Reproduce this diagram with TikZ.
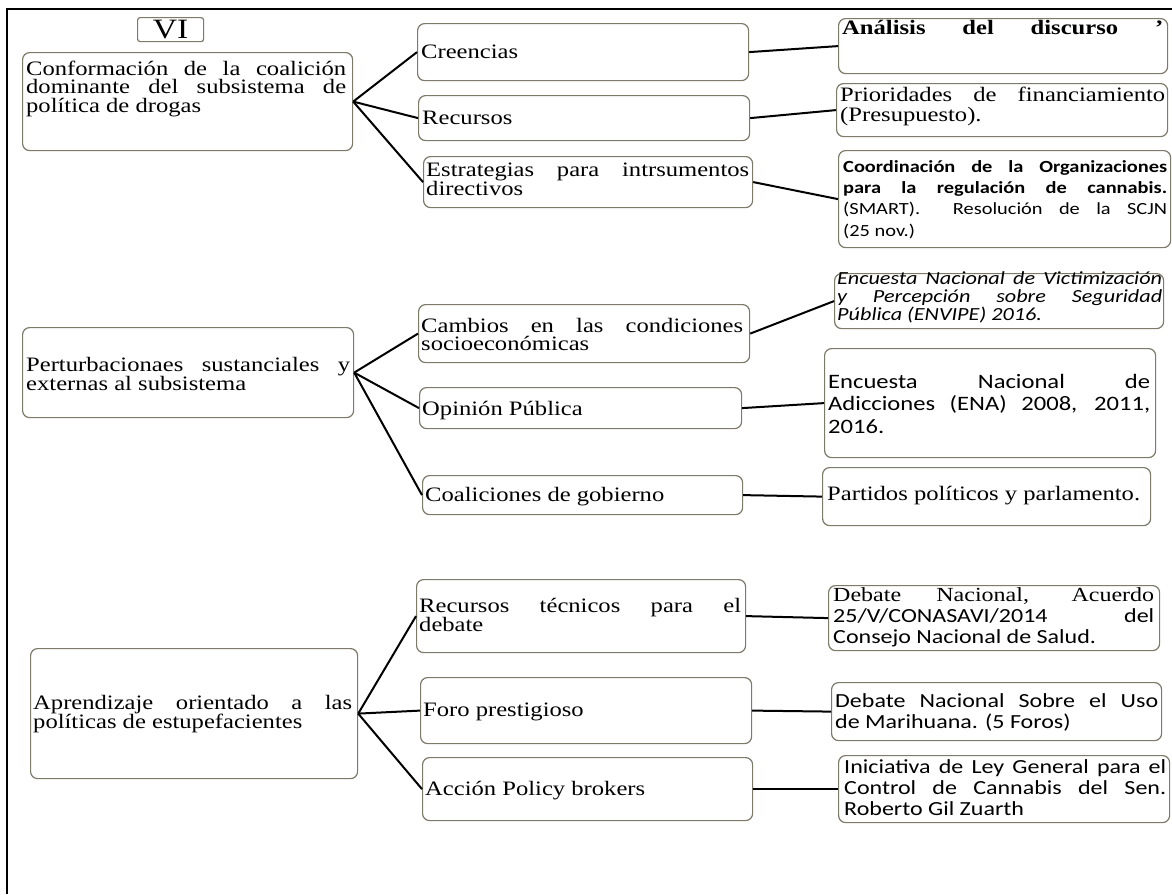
\documentclass[tikz,border=0pt]{standalone}
\usepackage{fontspec}
\setmainfont{Liberation Serif}[FakeStretch=1.2]
\newfontfamily\sansf{Carlito}[FakeStretch=1.2]
\tolerance=10000 \hbadness=10000 \hfuzz=20pt
\hyphenpenalty=10000 \exhyphenpenalty=10000
\lineskiplimit=-100pt
\definecolor{boxline}{RGB}{125,122,105}
\begin{document}
\begin{tikzpicture}[x=1pt,y=-1pt,
  box/.style={draw=boxline, line width=1.2pt, rounded corners=7pt, fill=white,
    inner sep=0pt, anchor=north west},
  lbl/.style={anchor=base west, inner sep=0pt, text=black},
  ser/.style={font=\fontsize{20.5}{18.5}\selectfont},
  san/.style={font=\sansf\fontsize{20}{21}\selectfont},
  link/.style={draw=black, line width=2pt}]

\useasboundingbox (0,0) rectangle (1172,894);
% page frame
\draw[line width=2pt] (1172,9) -- (7,9) -- (7,894);

% ---------- block VI ----------
\node[box, rounded corners=2.5pt, minimum width=66, minimum height=24, font=\fontsize{28}{28}\selectfont] (vi) at (137,17) {VI};

\node[box, minimum width=330, minimum height=98] (c1) at (22,52) {};
\node[box, minimum width=331, minimum height=57] (cre) at (417,23) {};
\node[box, minimum width=331, minimum height=45] (rec) at (418,95) {};
\node[box, minimum width=329, minimum height=51] (est) at (423,156) {};
\node[box, minimum width=329, minimum height=55] (ana) at (838,18) {};
\node[box, minimum width=331, minimum height=53] (pri) at (836,83) {};
\node[box, minimum width=332, minimum height=97] (coo) at (838,150) {};

\node[lbl, ser] (c1t) at (26,75) {\parbox[t]{320pt}{Conformación de la coalición\linebreak dominante del subsistema de\linebreak política de drogas}};
\node[lbl, ser] (cret) at (421,58) {Creencias};
\node[lbl, ser] (rect) at (422,124) {Recursos};
\node[lbl, ser] (estt) at (426,176) {\parbox[t]{323pt}{Estrategias para intrsumentos\linebreak directivos}};
\node[lbl, font=\fontsize{20.5}{18.5}\selectfont\bfseries] (anat) at (842,34) {\makebox[321pt][s]{Análisis del discurso ’}};
\node[lbl, font=\fontsize{20.5}{20}\selectfont] (prit) at (840,101) {\parbox[t]{325pt}{Prioridades de financiamiento\linebreak (Presupuesto).}};
\node[lbl, font=\sansf\fontsize{17}{21.4}\selectfont] (coot) at (843,172) {\parbox[t]{324pt}{\textbf{Coordinación de la Organizaciones\linebreak para la regulación de cannabis.}\linebreak (SMART). \ Resolución de la SCJN\linebreak (25 nov.)}};

\draw[link] (c1.east) -- (cre.west);
\draw[link] (c1.east) -- (rec.west);
\draw[link] (c1.east) -- (est.west);
\draw[link] (cre.east) -- (ana.west);
\draw[link] (rec.east) -- (pri.west);
\draw[link] (est.east) -- (coo.west);

% ---------- perturbations ----------
\node[box, minimum width=331, minimum height=90] (per) at (22,327) {};
\node[box, minimum width=331, minimum height=58] (cam) at (418,304) {};
\node[box, minimum width=322, minimum height=41] (opi) at (419,387) {};
\node[box, minimum width=320, minimum height=39] (coa) at (422,475) {};
\node[box, minimum width=329, minimum height=55] (env) at (834,273) {};
\node[box, minimum width=331, minimum height=109] (ena) at (824,348) {};
\node[box, minimum width=328, minimum height=58] (par) at (822,467) {};

\node[lbl, ser] (pert) at (26,371) {\parbox[t]{324pt}{Perturbacionaes sustanciales y\linebreak externas al subsistema}};
\node[lbl, ser] (camt) at (421,332) {\parbox[t]{322pt}{Cambios en las condiciones\linebreak socioeconómicas}};
\node[lbl, ser] (opit) at (422,415) {Opinión Pública};
\node[lbl, ser] (coat) at (425,501) {Coaliciones de gobierno};
\node[lbl, font=\sansf\itshape\fontsize{18.5}{18}\selectfont] (envt) at (837,284) {\parbox[t]{325pt}{Encuesta Nacional de Victimización\linebreak y Percepción sobre Seguridad\linebreak Pública (ENVIPE) 2016.}};
\node[lbl, font=\sansf\fontsize{20.5}{22.5}\selectfont] (enat) at (828,388) {\parbox[t]{322pt}{Encuesta Nacional de\linebreak Adicciones (ENA) 2008, 2011,\linebreak 2016.}};
\node[lbl, ser] (part) at (827,500) {Partidos políticos y parlamento.};

\draw[link] (per.east) -- (cam.west);
\draw[link] (per.east) -- (opi.west);
\draw[link] (per.east) -- (coa.west);
\draw[link] (cam.east) -- (env.west);
\draw[link] (opi.east) -- (ena.west);
\draw[link] (coa.east) -- (par.west);

% ---------- learning ----------
\node[box, minimum width=327, minimum height=130] (apr) at (30,648) {};
\node[box, minimum width=329, minimum height=73] (rtc) at (416,579) {};
\node[box, minimum width=331, minimum height=66] (foro) at (420,677) {};
\node[box, minimum width=330, minimum height=63] (acc) at (422,757) {};
\node[box, minimum width=331, minimum height=65] (dna) at (828,585) {};
\node[box, minimum width=330, minimum height=58] (dns) at (831,682) {};
\node[box, minimum width=331, minimum height=67] (ini) at (838,755) {};

\node[lbl, ser] (aprt) at (33,709) {\parbox[t]{319pt}{Aprendizaje orientado a las\linebreak políticas de estupefacientes}};
\node[lbl, ser] (rtct) at (419,612) {\parbox[t]{322pt}{Recursos técnicos para el\linebreak debate}};
\node[lbl, ser] (forot) at (423,716) {Foro prestigioso};
\node[lbl, ser] (acct) at (425,795) {Acción Policy brokers};
\node[lbl, font=\fontsize{20}{21}\selectfont] (dnat) at (833,601) {\parbox[t]{321pt}{\makebox[\linewidth][s]{Debate Nacional, Acuerdo}\par
  \sansf\fontsize{20}{21}\selectfont\makebox[\linewidth][s]{25/V/CONASAVI/2014 del}\par
  Consejo Nacional de Salud.}};
\node[lbl, san] (dnst) at (835,707) {\parbox[t]{323pt}{Debate Nacional Sobre el Uso\linebreak de Marihuana. (5 Foros)}};
\node[lbl, san] (init) at (844,773) {\parbox[t]{322pt}{Iniciativa de Ley General para el\linebreak Control de Cannabis del Sen.\linebreak Roberto Gil Zuarth}};

\draw[link] (apr.east) -- (rtc.west);
\draw[link] (apr.east) -- (foro.west);
\draw[link] (apr.east) -- (acc.west);
\draw[link] (rtc.east) -- (dna.west);
\draw[link] (foro.east) -- (dns.west);
\draw[link] (acc.east) -- (ini.west);
\end{tikzpicture}
\end{document}
